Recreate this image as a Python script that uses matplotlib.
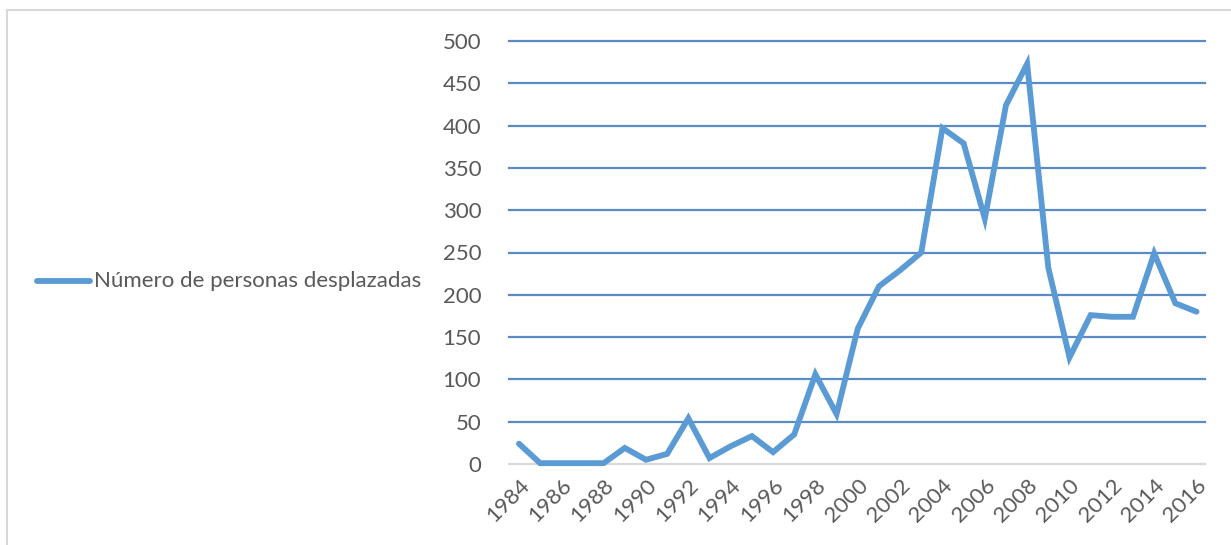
import matplotlib
matplotlib.use("Agg")
import matplotlib.pyplot as plt
from matplotlib.lines import Line2D

years = list(range(1984, 2017))
desplazados = [24, 1, 1, 1, 1, 19, 5, 12, 54, 7, 21, 33, 14, 35, 106, 59,
               160, 210, 229, 250, 397, 379, 290, 424, 473, 232, 126, 176,
               174, 174, 249, 190, 180]
series_label = "Número de personas desplazadas"
yticks = list(range(0, 501, 50))
xtick_years = list(range(1984, 2017, 2))

plt.rcParams['font.family'] = ['Lato', 'DejaVu Sans']

W, H = 1231, 545
fig = plt.figure(figsize=(W / 100, H / 100), dpi=100)
ax = fig.add_axes([509 / W, 1 - 464 / H, (1205 - 509) / W, (464 - 41) / H])

line_color = '#5B9BD5'
grid_color = '#5B8BC6'

ax.plot(years, desplazados, color=line_color, lw=4.2, solid_joinstyle='miter',
        solid_capstyle='round', zorder=3, clip_on=False)

ax.set_xlim(1983.53, 2016.4)
ax.set_ylim(0, 500)
ax.set_yticks(yticks)
ax.set_xticks(xtick_years)
ax.set_xticklabels([str(y) for y in xtick_years], rotation=45, ha='right',
                   rotation_mode='anchor')
for y in yticks[1:]:
    ax.axhline(y, color=grid_color, lw=1.6, zorder=1, clip_on=False)
ax.axhline(0, color='#D9D9D9', lw=1.6, zorder=1, clip_on=False)

for s in ax.spines.values():
    s.set_visible(False)
ax.tick_params(axis='both', length=0, labelsize=16, colors='#595959')
ax.tick_params(axis='y', pad=20)
ax.tick_params(axis='x', pad=8)

# legend on the left
fig.lines.append(Line2D([37 / W, 90 / W], [1 - 281 / H, 1 - 281 / H],
                        color=line_color, lw=4.2, solid_capstyle='round',
                        transform=fig.transFigure))
fig.text(94 / W, 1 - 281 / H, series_label, fontsize=16, color='#595959',
         va='center', ha='left')

# chart border (top and left)
fig.lines.append(Line2D([7 / W, 1], [1 - 10 / H, 1 - 10 / H], color='#D9D9D9',
                        lw=1.5, transform=fig.transFigure))
fig.lines.append(Line2D([7 / W, 7 / W], [0, 1 - 10 / H], color='#D9D9D9',
                        lw=1.5, transform=fig.transFigure))

fig.savefig('out.png', dpi=100)
